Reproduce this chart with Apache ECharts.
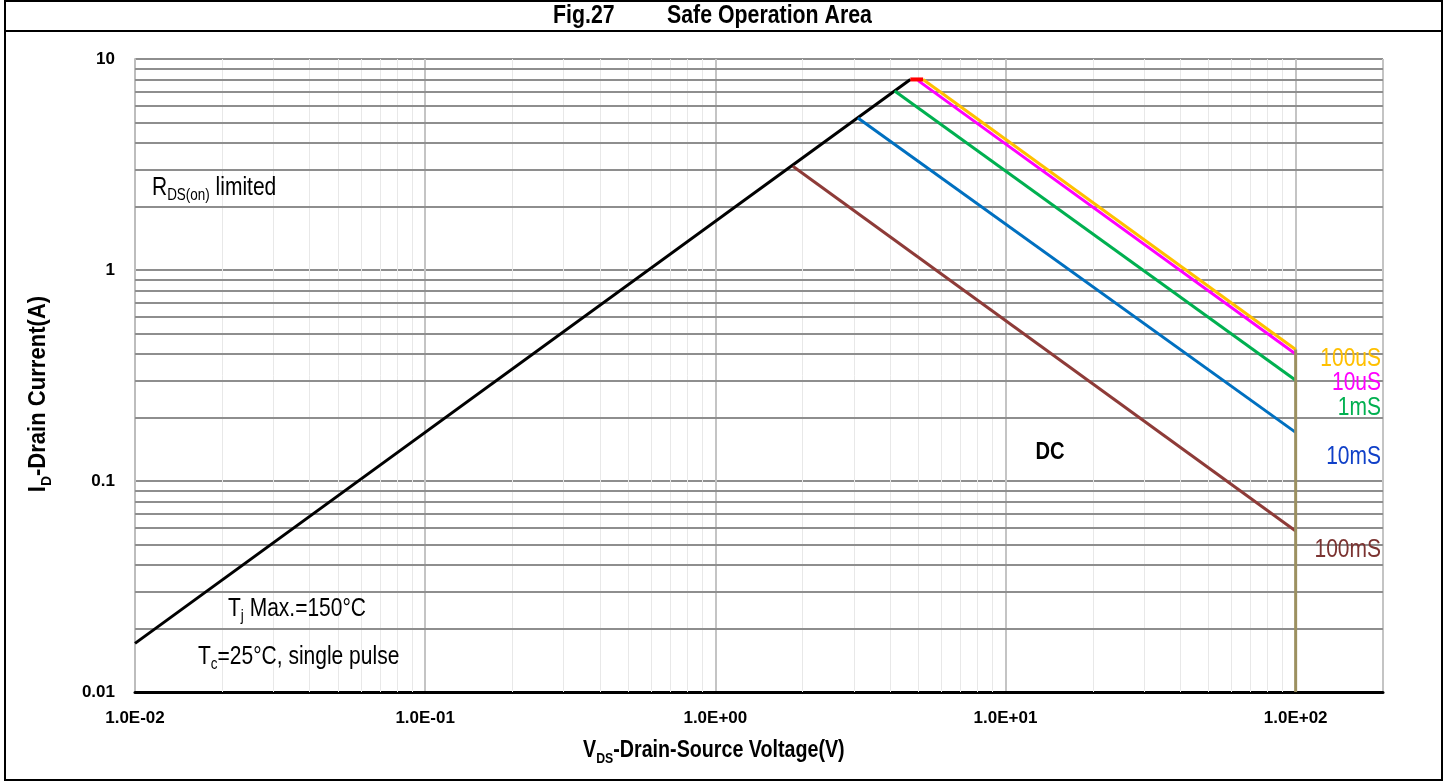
<!DOCTYPE html>
<html><head><meta charset="utf-8">
<script src="https://cdn.jsdelivr.net/npm/echarts@6/dist/echarts.min.js"></script>
<style>html,body{margin:0;padding:0;background:#fff}#c{width:1447px;height:782px}</style>
</head><body><div id="c"></div>
<script>
// ---- axis ticks ----
const xTickValues = [0.01, 0.1, 1, 10, 100];
const xTickLabels = ['1.0E-02', '1.0E-01', '1.0E+00', '1.0E+01', '1.0E+02'];
const yTickValues = [0.01, 0.1, 1, 10];
const yTickLabels = ['0.01', '0.1', '1', '10'];
const xRange = [0.01, 200];
const yRange = [0.01, 10];
const gridMultipliers = [2, 3, 4, 5, 6, 7, 8, 9];

// ---- curves [VDS (V), ID (A)] ----
const rdsLimited = [[0.01, 0.017], [4.7, 8]];
const currentLimit = [[4.7, 8], [5.2, 8]];
const pulse100us = [[5.2, 8], [100, 0.42]];
const pulse10us = [[5.0, 7.9], [100, 0.40]];
const pulse1ms = [[4.15, 7.05], [100, 0.30]];
const pulse10ms = [[3.1, 5.25], [100, 0.17]];
const pulse100ms = [[1.85, 3.1], [100, 0.058]];
const vdsMax = [[100, 0.42], [100, 0.01]];

const FONT = "'Liberation Sans', Arial, sans-serif";

function tickLabel(v, vals, labels) {
  for (let i = 0; i < vals.length; i++) {
    if (Math.abs(Math.log10(v) - Math.log10(vals[i])) < 1e-6) return labels[i];
  }
  return '';
}

const xMinor = [], yMinor = [];
for (let i = 0; i < xTickValues.length; i++) {
  gridMultipliers.forEach(m => { const v = xTickValues[i] * m; if (v < xRange[1]) xMinor.push(v); });
}
for (let i = 0; i < yTickValues.length - 1; i++) {
  gridMultipliers.forEach(m => yMinor.push(yTickValues[i] * m));
}

function lineSeries(name, data, color, width, z) {
  return { name, type: 'line', data, symbol: 'none', showSymbol: false, animation: false, silent: true,
    lineStyle: { color, width }, z };
}

const chart = echarts.init(document.getElementById('c'), null, { renderer: 'canvas' });

function txt(x, y, text, opts) {
  return Object.assign({ type: 'text', x, y, scaleX: 0.84, z: 100, silent: true,
    style: Object.assign({ text, fill: '#000', font: '25px ' + FONT, align: 'left', verticalAlign: 'middle' }, opts.style || {}) },
    opts.el || {});
}

const richNorm = (size, weight) => ({
  m: { fontSize: size, fontFamily: FONT, fontWeight: weight, lineHeight: 32, fill: '#000' },
  s: { fontSize: Math.round(size * 0.64), fontFamily: FONT, fontWeight: weight, lineHeight: 32, verticalAlign: 'bottom', fill: '#000' }
});

chart.setOption({
  animation: false,
  backgroundColor: '#fff',
  grid: { left: 135, right: 64, top: 59, bottom: 90, containLabel: false },
  xAxis: {
    type: 'log', logBase: 10, min: xRange[0], max: xRange[1],
    axisLine: { show: true, lineStyle: { color: '#000', width: 3 } },
    axisTick: { show: false },
    axisLabel: { margin: 18, fontSize: 17, fontWeight: 'bold', fontFamily: FONT, color: '#000',
      formatter: v => tickLabel(v, xTickValues, xTickLabels) },
    splitLine: { show: true, lineStyle: { color: '#c4c4c4', width: 2 } }
  },
  yAxis: {
    type: 'log', logBase: 10, min: yRange[0], max: yRange[1],
    axisLine: { show: true, lineStyle: { color: '#bdbdbd', width: 2 } },
    axisTick: { show: false },
    axisLabel: { margin: 20, fontSize: 17, fontWeight: 'bold', fontFamily: FONT, color: '#000',
      formatter: v => tickLabel(v, yTickValues, yTickLabels) },
    splitLine: { show: true, lineStyle: { color: '#8e8e8e', width: 2 } }
  },
  series: [
    { type: 'line', data: [], symbol: 'none', z: 1, silent: true,
      markLine: { silent: true, symbol: 'none', animation: false, label: { show: false },
        lineStyle: { type: 'solid', color: '#e8e8e8', width: 1 },
        data: xMinor.map(v => ({ xAxis: v })) } },
    { type: 'line', data: [], symbol: 'none', z: 1, silent: true,
      markLine: { silent: true, symbol: 'none', animation: false, label: { show: false },
        lineStyle: { type: 'solid', color: '#8e8e8e', width: 2 },
        data: yMinor.map(v => ({ yAxis: v })) } },
    lineSeries('R_DS(on) limited', rdsLimited, '#000000', 3, 5),
    lineSeries('100mS', pulse100ms, '#8e3b38', 3, 5),
    lineSeries('10mS', pulse10ms, '#0070c0', 3, 5),
    lineSeries('1mS', pulse1ms, '#00b050', 3, 5),
    lineSeries('10uS', pulse10us, '#ff00ff', 3, 5),
    lineSeries('100uS', pulse100us, '#ffc000', 3, 6),
    lineSeries('limit', currentLimit, '#ff0000', 4, 7),
    lineSeries('VDS max', vdsMax, '#9c9060', 3, 6)
  ],
  graphic: [
    { type: 'rect', z: 100, silent: true, shape: { x: 5, y: 1, width: 1437, height: 779 },
      style: { fill: 'none', stroke: '#000', lineWidth: 2 } },
    { type: 'line', z: 100, silent: true, shape: { x1: 5, y1: 31, x2: 1442, y2: 31 },
      style: { stroke: '#000', lineWidth: 2 } },
    txt(553, 16, 'Fig.27', { style: { font: 'bold 26px ' + FONT }, el: { scaleX: 0.82 } }),
    txt(667, 16, 'Safe Operation Area', { style: { font: 'bold 26px ' + FONT }, el: { scaleX: 0.82 } }),
    txt(152, 188, '{m|R}{s|DS(on)}{m| limited}', { style: { rich: richNorm(25, 'normal') } }),
    txt(228, 609, '{m|T}{s|j}{m| Max.=150°C}', { style: { rich: richNorm(25, 'normal') } }),
    txt(198, 657, '{m|T}{s|c}{m|=25°C, single pulse}', { style: { rich: richNorm(25, 'normal') } }),
    txt(1050, 452, 'DC', { style: { font: 'bold 24px ' + FONT, align: 'center' } }),
    txt(1381, 359, '100uS', { style: { fill: '#ffc000', align: 'right' } }),
    txt(1381, 383, '10uS', { style: { fill: '#ff00ff', align: 'right' } }),
    txt(1381, 408, '1mS', { style: { fill: '#00b050', align: 'right' } }),
    txt(1381, 457, '10mS', { style: { fill: '#1040c8', align: 'right' } }),
    txt(1381, 550, '100mS', { style: { fill: '#7b3331', align: 'right' } }),
    txt(583, 750, '{m|V}{s|DS}{m|-Drain-Source Voltage(V)}', { style: { rich: richNorm(24, 'bold') }, el: { scaleX: 0.82 } }),
    txt(38, 394, '{m|I}{s|D}{m|-Drain Current(A)}', { style: { rich: richNorm(24, 'bold'), align: 'center' }, el: { scaleX: 0.92, rotation: Math.PI / 2 } })
  ]
});
</script>
</body></html>
